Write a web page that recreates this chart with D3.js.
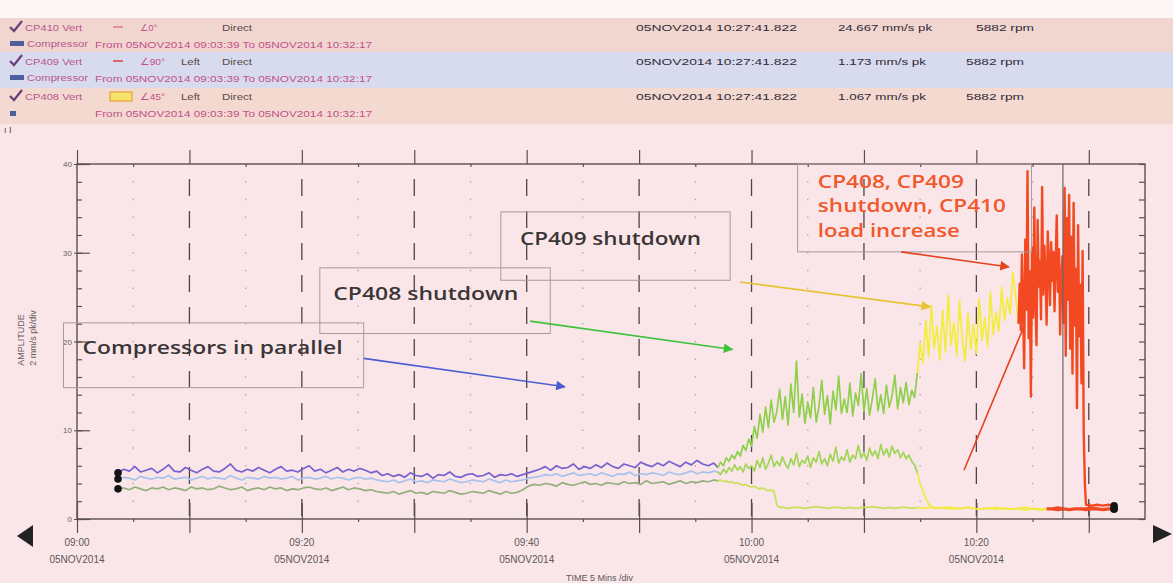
<!DOCTYPE html>
<html>
<head>
<meta charset="utf-8">
<script src="https://cdn.jsdelivr.net/npm/d3@7"></script>
<style>
  html, body { margin: 0; padding: 0; background: #fae6e8; }
  svg { display: block; font-family: "Liberation Sans", Arial, sans-serif; }
</style>
</head>
<body>
<svg id="chart" width="1173" height="583"></svg>
<script>
// ------------------------------------------------------------
// Trend plot: CP408 / CP409 / CP410 vertical vibration, 05NOV2014
// time is minutes after 09:00, amplitude in mm/s pk
// ------------------------------------------------------------

const seriesNames  = ['CP410 Vert', 'CP409 Vert', 'CP408 Vert'];
const angleLabels  = ['\u22200\u00b0', '\u222090\u00b0', '\u222045\u00b0'];
const sideLabels   = ['', 'Left', 'Left'];
const cursorTime   = '05NOV2014 10:27:41.822';
const cursorValues = ['24.667 mm/s pk', '1.173 mm/s pk', '1.067 mm/s pk'];
const speedLabels  = ['5882 rpm', '5882 rpm', '5882 rpm'];
const rangeLabel   = 'From 05NOV2014 09:03:39 To 05NOV2014 10:32:17';
const cursorMinute = 87.7;

const xLabelMinutes = [0, 20, 40, 60, 80];
const xLabels       = ['09:00', '09:20', '09:40', '10:00', '10:20'];
const yLabels       = [0, 10, 20, 30, 40];

// --- CP410 (runs until the load increase) ---
const cp410Early = [
  5.2,5.6,5.4,5.9,5.3,5.5,5.7,5.2,5.6,6.1,5.4,5.3,5.8,5.5,5.2,5.6,5.9,5.4,5.3,5.7,6.2,5.5,5.3,5.6,5.4,5.8,5.5,5.2,5.6,5.9,5.4,5.5,5.3,5.7,6.0,5.4,5.6,5.2,5.5,5.8,5.3,5.6,5.4,5.7,5.5,5.2,5.4,
  4.9,5.1,4.8,5.0,4.7,5.2,4.9,4.8,5.1,4.6,5.0,4.9,5.3,4.8,4.7,5.0,5.1,4.8,4.9,5.2,4.7,5.0,4.9,5.1,4.8,5.0,5.2,5.4,
  5.6,5.9,5.5,6.0,5.7,5.8,6.2,5.6,5.9,5.7,6.1,5.8,6.3,5.9,5.7,6.2,6.0,5.8,6.4,6.1,5.9,6.3,6.0,6.5,6.2,5.9,6.4,6.1,6.6,6.2,6.0,6.3
];
const cp410Green = [
  5.8,6.4,6.0,6.9,6.5,7.2,6.8,7.6,7.1,8.3,7.7,9.0,
  8.2,10.4,9.1,11.8,9.8,12.6,10.3,13.4,10.9,12.1,14.6,11.2,
  13.8,10.6,15.2,12.0,17.8,11.5,14.1,10.8,13.2,11.4,14.8,10.9,
  12.7,15.6,11.8,13.9,10.7,14.4,12.3,16.1,11.9,13.5,12.0,15.3,
  11.6,14.2,12.8,16.4,12.1,14.7,11.7,13.6,15.8,12.2,14.0,11.9,
  15.1,12.6,13.9,16.2,12.4,14.8,13.1,15.4,12.9,14.5,13.7
];
const cp410Yellow = [
  16.5,19.8,17.6,22.4,18.3,24.1,19.2,21.7,17.9,23.5,18.8,25.2,19.6,22.1,18.4,24.6,20.3,17.8,
  23.2,19.1,21.9,18.6,24.8,20.1,22.7,19.4,25.6,20.8,23.3,21.2,26.1,22.4,24.9,23.1,27.8,25.0
];
const cp410Red = [
  22.0,26.5,21.3,29.8,24.2,17.0,31.5,23.6,39.2,20.4,27.9,13.8,30.6,22.7,35.1,24.8,19.6,33.7,26.2,29.1,
  22.5,37.4,25.3,30.8,27.6,21.9,32.4,28.7,24.1,31.2,26.8,30.1,23.4,28.9,34.2,25.6,30.4,20.8,27.3,29.6,
  22.1,37.3,18.4,33.9,24.7,36.5,19.2,31.8,16.4,35.6,21.8,28.2,12.5,33.1,20.6,26.4,15.3,30.2,9.6,4.1,1.6
];
const cp410Tail = [1.5,1.6,1.5,1.6,1.5];

// --- CP409 ---
const cp409Early = [
  4.5,4.7,4.6,4.4,4.8,4.6,4.5,4.7,4.6,4.9,4.5,4.6,4.7,4.4,4.6,4.8,4.5,4.7,4.6,4.5,4.9,4.6,4.4,4.7,4.6,4.5,4.8,4.6,4.7,4.5,4.6,4.8,4.4,4.6,4.7,4.5,4.6,4.8,4.5,4.7,4.6,4.4,4.6,4.7,4.5,4.6,4.4,
  4.3,4.2,4.4,4.1,4.3,4.5,4.2,4.3,4.1,4.4,4.3,4.2,4.5,4.3,4.1,4.2,4.4,4.3,4.2,4.5,4.3,4.1,4.4,4.2,4.3,4.4,4.6,4.7,
  4.8,5.0,4.9,5.1,4.8,5.0,5.2,4.9,5.0,5.1,4.9,5.2,5.0,4.8,5.1,5.0,5.3,4.9,5.1,5.0,5.2,5.1,4.9,5.3,5.1,5.0,5.2,5.4,5.1,5.3,5.2,5.4
];
const cp409Green = [
  5.3,5.0,5.6,5.2,5.8,5.4,6.1,5.5,5.9,5.3,6.2,5.7,
  6.0,5.4,6.6,5.8,6.9,5.6,6.3,7.2,5.9,6.5,6.0,7.0,
  6.2,5.7,6.8,6.1,7.4,5.9,6.6,6.3,7.1,5.8,6.9,6.4,
  7.6,6.2,6.8,6.0,7.3,6.5,8.1,6.3,7.0,6.6,7.8,6.4,
  7.2,6.8,8.3,6.9,7.5,6.6,8.0,7.1,7.7,6.8,8.4,7.2,
  7.9,7.0,8.2,7.4,7.8,6.9,7.5,6.8,7.2,6.5,6.1
];
const cp409Drop = [5.2,4.0,3.1,2.3,1.7,1.4];
const cp409Tail = [
  1.2,1.3,1.2,1.1,1.2,1.2,1.3,1.2,1.1,1.2,1.2,1.3,1.2,1.2,1.1,1.2,1.3,1.2,1.2,1.1,
  1.2,1.2,1.3,1.2,1.1,1.2,1.2,1.2,1.3,1.2,1.1,1.2,1.2
];

// --- CP408 ---
const cp408Early = [
  3.4,3.5,3.3,3.6,3.4,3.2,3.5,3.4,3.6,3.3,3.5,3.4,3.2,3.6,3.4,3.5,3.3,3.4,3.7,3.5,3.3,3.4,3.6,3.2,3.4,3.5,3.3,3.6,3.4,3.5,3.2,3.4,3.3,3.5,3.6,3.4,3.3,3.5,3.2,3.4,3.6,3.3,3.5,3.4,3.2,3.3,3.1,
  3.0,2.9,3.1,2.8,3.0,3.2,2.9,3.0,2.8,3.1,3.0,2.9,3.2,3.0,2.8,2.9,3.1,3.0,2.9,3.2,3.0,2.8,3.1,2.9,3.0,3.3,3.7,3.9,
  3.8,4.0,3.9,3.7,4.1,3.9,3.8,4.0,4.2,3.9,4.0,3.8,4.1,4.0,3.9,4.2,4.0,4.1,3.9,4.3,4.0,4.1,4.2,3.9,4.1,4.3,4.0,4.2,4.1,4.3,4.2,4.4
];
const cp408Drop = [4.3,4.4,4.2,4.3,4.1,4.2,4.0,4.1,3.9,3.8,3.9,3.7,3.6,3.7,3.5,3.4,3.5,3.3,3.2,3.3,3.1,1.6,1.3];
const cp408Tail = [
  1.3,1.2,1.3,1.3,1.2,1.3,1.4,1.3,1.2,1.3,1.3,1.2,1.3,1.2,1.3,1.3,1.4,1.3,1.2,1.3,
  1.2,1.3,1.3,1.2,1.3,1.2,1.3,1.3,1.2,1.3,1.3,1.2,1.2,1.3,1.2,1.1,1.2,1.2,1.1,1.2,
  1.1,1.1,1.2,1.0,1.1,1.1,1.0,1.1,1.1,1.0,1.1,1.0,1.1,1.1,1.0,1.1,1.1,1.0,1.1,1.1
];

// sampling grid of each recorded block: [start minute, step]
function build(blocks) {
  const pts = [];
  blocks.forEach(([start, step, values]) =>
    values.forEach((v, i) => pts.push({ t: start + i * step, v })));
  return pts;
}

const series = [
  { name: 'CP408', breaks: [57, 74.6, 86], colors: ['#94b07c', '#cadf5a', '#f0eb40', '#f24a22'],
    pts: build([[3.65, 0.5, cp408Early], [57, 0.25, cp408Drop], [62.75, 0.5, cp408Tail]]) },
  { name: 'CP409', breaks: [57, 74.6, 86], colors: ['#a8c2ee', '#9fd657', '#f0eb40', '#f24a22'],
    pts: build([[3.65, 0.5, cp409Early], [57, 0.25, cp409Green], [74.75, 0.25, cp409Drop], [76.25, 0.5, cp409Tail]]) },
  { name: 'CP410', breaks: [57, 74.6, 83.7], colors: ['#7760d0', '#8ed04c', '#f2ec3c', '#f24a22'],
    pts: build([[3.65, 0.5, cp410Early], [57, 0.25, cp410Green], [74.75, 0.25, cp410Yellow],
                [83.75, 0.1, cp410Red], [90.25, 0.5, cp410Tail]]) }
];

// ------------------------------------------------------------
const svg = d3.select('#chart');
const x = d3.scaleLinear().domain([0, 95]).range([77, 1145]);
const y = d3.scaleLinear().domain([0, 40]).range([519, 164]);
const axisColor = '#5a4f50';

// soft scan look for the traces
svg.append('defs').append('filter').attr('id', 'soft')
  .append('feGaussianBlur').attr('stdDeviation', 0.45);

// ---------- header legend ----------
const bands = [[18, 34, '#f1d6cf'], [52, 36, '#d8dbee'], [88, 36, '#f3d9d0']];
svg.append('rect').attr('x', 0).attr('y', 0).attr('width', 1173).attr('height', 18).attr('fill', '#fcf6f5');
svg.selectAll('rect.band').data(bands).join('rect').attr('class', 'band')
  .attr('x', 0).attr('y', d => d[0]).attr('width', 1173).attr('height', d => d[1]).attr('fill', d => d[2]);

const rowY = [31, 65, 100];
const hdr = svg.append('g').attr('font-size', 9.5);
function htext(g, s, x0, y0, len, fill) {
  return g.append('text').attr('x', x0).attr('y', y0).text(s).attr('fill', fill)
    .attr('textLength', len).attr('lengthAdjust', 'spacingAndGlyphs');
}
seriesNames.forEach((name, i) => {
  const yy = rowY[i];
  // check-mark icon
  hdr.append('path').attr('d', `M10,${yy - 4} l4,4 l8,-10`).attr('fill', 'none')
    .attr('stroke', '#6b3f7a').attr('stroke-width', 2.2);
  htext(hdr, name, 25, yy, 57, '#b9558f');
  if (i < 2) {
    hdr.append('rect').attr('x', 10).attr('y', yy + 10).attr('width', 14).attr('height', 5).attr('fill', '#4f5f9e');
    htext(hdr, 'Compressor', 27, yy + 16, 61, '#b9558f');
  } else {
    hdr.append('rect').attr('x', 10).attr('y', yy + 11).attr('width', 6).attr('height', 5).attr('fill', '#4f5f9e');
  }
  htext(hdr, rangeLabel, 95, yy + 17, 277, '#c2508c');
  if (i === 2) {
    hdr.append('rect').attr('x', 110).attr('y', yy - 8).attr('width', 22).attr('height', 9)
      .attr('fill', '#f6e46a').attr('stroke', '#e9a03a').attr('stroke-width', 1.2);
  } else {
    hdr.append('line').attr('x1', 113).attr('x2', 123).attr('y1', yy - 4).attr('y2', yy - 4)
      .attr('stroke', i === 0 ? '#e07a9a' : '#d9403a').attr('stroke-width', 1.5);
  }
  htext(hdr, angleLabels[i], 140, yy, i === 0 ? 17 : 25, '#c2508c');
  if (sideLabels[i]) htext(hdr, sideLabels[i], 181, yy, 19, '#5a4848');
  htext(hdr, 'Direct', 222, yy, 30, '#5a4848');
  htext(hdr, cursorTime, 636, yy, 161, '#302a38');
  htext(hdr, cursorValues[i], 838, yy, i === 0 ? 94 : 88, '#302a38');
  htext(hdr, speedLabels[i], i === 0 ? 976 : 966, yy, 58, '#302a38');
});
svg.append('text').attr('x', 4).attr('y', 133).attr('font-size', 9).attr('fill', '#444').text('\u0131 I');

// ---------- grid ----------
const grid = svg.append('g');
grid.selectAll('line.dot').data(d3.range(5, 95, 10)).join('line').attr('class', 'dot')
  .attr('x1', d => x(d)).attr('x2', d => x(d)).attr('y1', y(40)).attr('y2', y(0))
  .attr('stroke', '#b9a8aa').attr('stroke-width', 1.4)
  .attr('stroke-dasharray', `1.4,${(y(0) - y(2)) - 1.4}`).attr('stroke-dashoffset', 0.7);
grid.selectAll('line.dash').data(d3.range(10, 95, 10)).join('line').attr('class', 'dash')
  .attr('x1', d => x(d)).attr('x2', d => x(d)).attr('y1', y(40)).attr('y2', y(0))
  .attr('stroke', '#4e4446').attr('stroke-width', 1.3)
  .attr('stroke-dasharray', '17,15').attr('stroke-dashoffset', 17);

// ---------- axes ----------
function tidy(g) { g.select('.domain').remove(); g.selectAll('line').attr('stroke', axisColor).attr('stroke-width', 1.2); }
const majorX = d3.range(0, 95, 10), minorX = d3.range(5, 95, 10);
svg.append('g').attr('transform', `translate(0,${y(0)})`)
  .call(d3.axisBottom(x).tickValues(majorX).tickSize(14).tickFormat('')).call(tidy);
svg.append('g').attr('transform', `translate(0,${y(0)})`)
  .call(d3.axisTop(x).tickValues(majorX).tickSize(16).tickFormat('')).call(tidy);
svg.append('g').attr('transform', `translate(0,${y(0)})`)
  .call(d3.axisBottom(x).tickValues(minorX).tickSize(3).tickFormat('')).call(tidy);
svg.append('g').attr('transform', `translate(0,${y(40)})`)
  .call(d3.axisTop(x).tickValues(majorX).tickSize(14).tickFormat('')).call(tidy);
svg.append('g').attr('transform', `translate(0,${y(40)})`)
  .call(d3.axisBottom(x).tickValues(minorX).tickSize(3).tickFormat('')).call(tidy);

const minorY = d3.range(0, 41, 2);
svg.append('g').attr('transform', `translate(${x(0)},0)`)
  .call(d3.axisRight(y).tickValues(minorY).tickSize(5).tickFormat('')).call(tidy);
svg.append('g').attr('transform', `translate(${x(0)},0)`)
  .call(d3.axisRight(y).tickValues(yLabels).tickSize(13).tickFormat('')).call(tidy);
svg.append('g').attr('transform', `translate(${x(0)},0)`)
  .call(d3.axisLeft(y).tickValues(yLabels).tickSize(3).tickPadding(2))
  .call(g => { g.select('.domain').remove(); g.selectAll('line').attr('stroke', axisColor); })
  .call(g => g.selectAll('text').attr('font-size', 8).attr('fill', '#6a5c5e').attr('font-family', 'Liberation Sans'));
svg.append('g').attr('transform', `translate(${x(95)},0)`)
  .call(d3.axisLeft(y).tickValues(minorY).tickSize(6).tickFormat('')).call(tidy);

svg.append('rect').attr('x', x(0)).attr('y', y(40)).attr('width', x(95) - x(0)).attr('height', y(0) - y(40))
  .attr('fill', 'none').attr('stroke', axisColor).attr('stroke-width', 1.4);

// x tick labels
const xl = svg.append('g').attr('font-size', 10).attr('fill', '#5e5658').attr('text-anchor', 'middle');
xLabelMinutes.forEach((m, i) => {
  xl.append('text').attr('x', x(m)).attr('y', 546).text(xLabels[i]);
  xl.append('text').attr('x', x(m)).attr('y', 563).text('05NOV2014');
});
svg.append('text').attr('x', 566).attr('y', 581).attr('font-size', 9).attr('fill', '#5e5658').text('TIME  5 Mins /div');

// y label
const yl = svg.append('g').attr('font-size', 9).attr('fill', '#6a5c5e').attr('text-anchor', 'middle');
yl.append('text').attr('transform', 'translate(24,340) rotate(-90)').text('AMPLITUDE');
yl.append('text').attr('transform', 'translate(36,338) rotate(-90)').text('2 mm/s pk/div');

// scroll arrows
svg.append('path').attr('d', 'M17,536 L33,525 L33,547 Z').attr('fill', '#222');
svg.append('path').attr('d', 'M1172,534 L1153,525 L1153,543 Z').attr('fill', '#222');

// ---------- data ----------
const plot = svg.append('g').attr('filter', 'url(#soft)');
const line = d3.line().x(d => x(d.t)).y(d => y(d.v));

series.forEach(s => {
  const runs = [];
  let cur = null;
  for (let i = 0; i < s.pts.length - 1; i++) {
    const c = d3.bisectRight(s.breaks, s.pts[i].t);
    if (!cur || cur.c !== c) { cur = { c, pts: [s.pts[i]] }; runs.push(cur); }
    cur.pts.push(s.pts[i + 1]);
  }
  plot.append('g').selectAll('path').data(runs).join('path')
    .attr('d', r => line(r.pts))
    .attr('fill', 'none')
    .attr('stroke', r => s.colors[r.c])
    .attr('stroke-width', r => r.c === 3 ? 2.4 : 1.7)
    .attr('stroke-linejoin', 'round');
});

// cursor
svg.append('line').attr('x1', x(cursorMinute)).attr('x2', x(cursorMinute))
  .attr('y1', y(40)).attr('y2', y(0)).attr('stroke', '#6e6466').attr('stroke-width', 1.2);

// start / end markers
series.forEach(s => {
  [s.pts[0], s.pts[s.pts.length - 1]].forEach(p =>
    svg.append('circle').attr('cx', x(p.t)).attr('cy', y(p.v)).attr('r', 3.8).attr('fill', '#141414'));
});

// ---------- annotations (data coordinates) ----------
const notes = [
  { box: [-1.2, 25.5, 22.1, 14.8], at: [0.5, 18.6], lines: ['Compressors in parallel'], lens: [260],
    color: '#3a3638', from: [25.5, 18.1], to: [43.4, 14.9], arrow: '#4a5ed2' },
  { box: [21.6, 42.1, 28.3, 20.9], at: [22.8, 24.7], lines: ['CP408 shutdown'], lens: [185],
    color: '#3a3638', from: [40.3, 22.3], to: [58.3, 19.1], arrow: '#3ec23c' },
  { box: [37.7, 58.1, 34.6, 26.9], at: [39.4, 30.9], lines: ['CP409 shutdown'], lens: [181],
    color: '#3a3638', from: [59.0, 26.7], to: [75.9, 23.9], arrow: '#e7c336' },
  { box: [64.1, 84.9, 40.0, 30.1], at: [65.9, 37.3], lines: ['CP408, CP409', 'shutdown, CP410', 'load increase'],
    lens: [146, 188, 142], color: '#f0582c', from: [73.3, 30.1], to: [82.9, 28.4], arrow: '#e6431f' }
];

const defs = svg.append('defs');
notes.forEach((n, i) => {
  defs.append('marker').attr('id', 'head' + i).attr('viewBox', '0 0 10 10')
    .attr('refX', 9).attr('refY', 5).attr('markerWidth', 7).attr('markerHeight', 6)
    .attr('markerUnits', 'strokeWidth').attr('orient', 'auto')
    .append('path').attr('d', 'M0,0 L10,5 L0,10 Z').attr('fill', n.arrow);
});

const ann = svg.append('g');
notes.forEach((n, i) => {
  ann.append('rect').attr('x', x(n.box[0])).attr('y', y(n.box[2]))
    .attr('width', x(n.box[1]) - x(n.box[0])).attr('height', y(n.box[3]) - y(n.box[2]))
    .attr('fill', 'none').attr('stroke', '#a89a9c').attr('stroke-width', 1);
  n.lines.forEach((t, k) => {
    ann.append('text').attr('x', x(n.at[0])).attr('y', y(n.at[1]) + k * 24.5)
      .attr('font-family', '"Open Sans", "Noto Sans", sans-serif').attr('font-weight', 600)
      .attr('font-size', 18).attr('fill', n.color)
      .attr('textLength', n.lens[k]).attr('lengthAdjust', 'spacingAndGlyphs').text(t);
  });
  ann.append('line').attr('x1', x(n.from[0])).attr('y1', y(n.from[1]))
    .attr('x2', x(n.to[0])).attr('y2', y(n.to[1]))
    .attr('stroke', n.arrow).attr('stroke-width', 1.6).attr('marker-end', `url(#head${i})`);
});

// pointer into the CP410 burst
ann.append('line').attr('x1', x(78.9)).attr('y1', y(5.5)).attr('x2', x(84.2)).attr('y2', y(21.6))
  .attr('stroke', '#e6431f').attr('stroke-width', 1.6);
</script>
</body>
</html>
